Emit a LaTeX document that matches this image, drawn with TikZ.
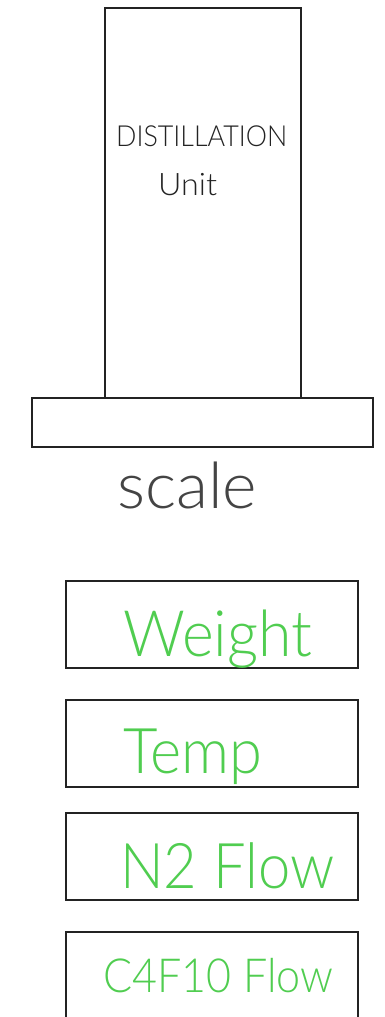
\documentclass[tikz,border=0pt]{standalone}
\usepackage{fontspec}
\usepackage{graphicx}
\newfontfamily\thinfont{Lato Light}
\definecolor{lbl}{RGB}{80,205,80}
\definecolor{ink}{RGB}{35,35,35}
\newcommand{\fittext}[3]{\resizebox{#1}{\height}{\fontsize{#2}{#2}\selectfont #3}}
\tikzset{
  box/.style={draw=ink, line width=1.3pt},
  txt/.style={anchor=base west, inner sep=0pt, font=\thinfont},
  meas/.style={txt, text=lbl}
}
\begin{document}
\begin{tikzpicture}[x=1pt,y=-1pt]
\useasboundingbox (0,0) rectangle (384,1017);
\fill[white] (0,0) rectangle (384,1017);
% distillation column
\draw[box] (105,398) -- (105,8) -- (301,8) -- (301,398);
% scale base
\draw[box] (32,398) rectangle (373,447);
\node[txt, text=ink] (dist) at (116,146) {\fittext{171pt}{29}{DISTILLATION}};
\node[txt, text=ink] (unit) at (158,195) {\fittext{59pt}{31}{Unit}};
\node[txt, text=ink!85] (scale) at (117,508) {\fittext{140pt}{64}{scale}};
% measurement boxes
\draw[box] (66,581) rectangle (358,668);
\draw[box] (66,700) rectangle (358,787);
\draw[box] (66,813) rectangle (358,900);
\draw[box] (66,1020) -- (66,932) -- (358,932) -- (358,1020);
\node[meas] (weight) at (123,656) {\fittext{189pt}{64}{Weight}};
\node[meas] (temp) at (123,773) {\fittext{139pt}{63}{Temp}};
\node[meas] (n2) at (120,888) {\fittext{214pt}{63}{N2 Flow}};
\node[meas] (c4) at (103,992) {\fittext{230pt}{47}{C4F10 Flow}};
\end{tikzpicture}
\end{document}
